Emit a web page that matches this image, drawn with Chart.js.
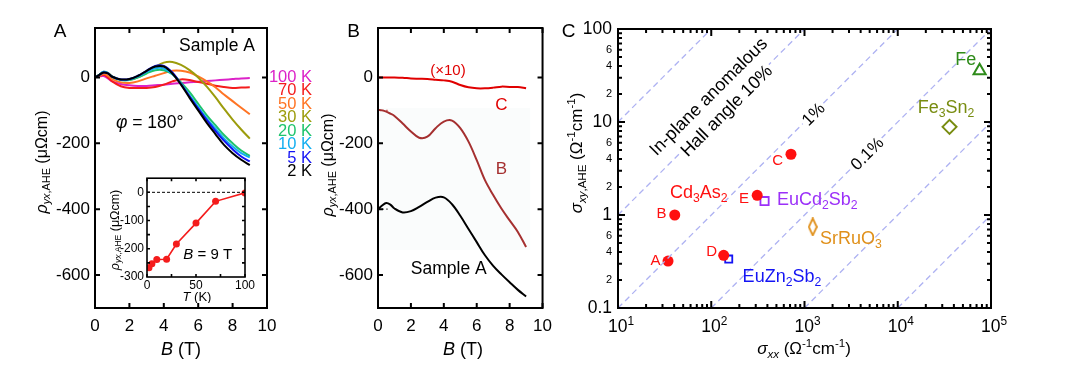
<!DOCTYPE html>
<html>
<head>
<meta charset="utf-8">
<script src="https://cdn.jsdelivr.net/npm/chart.js@4.4.1/dist/chart.umd.min.js"></script>
<style>
  body { margin: 0; background: #fff; }
  #wrap { position: relative; width: 1069px; height: 389px; overflow: hidden; }
  #wrap canvas { position: absolute; }
</style>
</head>
<body>
<div id="wrap">
  <canvas id="chartA" width="316" height="389" style="left:0px;top:0px"></canvas>
  <canvas id="chartB" width="244" height="389" style="left:316px;top:0px"></canvas>
  <canvas id="chartC" width="509" height="389" style="left:560px;top:0px"></canvas>
  <canvas id="inset" width="160" height="135" style="left:100px;top:168px"></canvas>
</div>
<script>
const FONT = '"Liberation Sans", Arial, Helvetica, sans-serif';

// ---- panel A: rho_yx,AHE vs B for several temperatures (phi = 180 deg)
const fieldA = [0, 0.25, 0.5, 0.75, 1, 1.5, 2, 2.5, 3, 3.5, 4, 4.5, 5, 5.5, 6, 6.5, 7, 7.5, 8, 8.5, 9];
const tempLabels = ['100 K', '70 K', '50 K', '30 K', '20 K', '10 K', '5 K', '2 K'];
const rho100K = [0, 3, 4, -3, -12, -20, -24, -26, -26, -24, -22, -19, -17, -15, -13, -11, -9, -7, -5, -3, -2];
const rho70K = [0, 4, 8, 0, -12, -27, -32, -32, -32, -29, -22, -12, -6, -8, -14, -19, -25, -29, -32, -31, -30];
const rho50K = [0, 5, 10, 5, -5, -15, -17, -12, -3, 5, 13, 20, 20, 15, 3, -12, -30, -52, -72, -92, -112];
const rho30K = [0, 8, 16, 14, 3, -7, -7, 0, 15, 32, 45, 47, 38, 22, 0, -28, -60, -95, -128, -158, -186];
const rho20K = [0, 8, 17, 13, 2, -8, -8, 0, 12, 22, 22, 10, -15, -45, -80, -115, -145, -175, -200, -222, -238];
const rho10K = [0, 8, 17, 13, 2, -7, -6, 3, 17, 28, 27, 10, -20, -55, -90, -125, -155, -185, -210, -230, -243];
const rho5K = [0, 7, 15, 12, 2, -6, -5, 5, 20, 35, 35, 15, -20, -58, -95, -130, -162, -192, -218, -240, -255];
const rho2K = [0, 8, 15, 12, 2, -6, -5, 5, 20, 33, 33, 12, -22, -62, -100, -138, -172, -205, -230, -250, -266];
const tempColors = ['#dc22c8', '#f41c1c', '#ff7424', '#9c9c0c', '#1ec46c', '#12aef0', '#1414f4', '#000000'];

// inset: rho_yx,AHE at B = 9 T vs T
const tempInset = [2, 5, 10, 20, 30, 50, 70, 100];
const rhoAt9T = [-267, -253, -238, -237, -183, -109, -32, -2];

// ---- panel B: samples A, B, C
const fieldB = [0, 0.25, 0.5, 0.75, 1, 1.5, 2, 2.5, 3, 3.5, 4, 4.5, 5, 5.5, 6, 6.5, 7, 7.5, 8, 8.5, 9];
const rhoC10 = [0, 0, 0, 0, 0, -1, -3, -4, -5, -7, -9, -13, -23, -30, -33, -33, -31, -28, -29, -29, -33];
const rhoB = [-98, -100, -104, -110, -117, -140, -164, -183, -180, -154, -134, -131, -154, -195, -251, -312, -357, -398, -434, -469, -515];
const rhoSampleA = [-400, -389, -381, -386, -398, -410, -406, -393, -378, -365, -364, -385, -420, -460, -500, -540, -572, -598, -622, -645, -665];
const offsetsB = [-100, -400];

// ---- panel C: sigma_xy,AHE vs sigma_xx
const cdLabels = ['A', 'B', 'C', 'D', 'E'];
const cdSxx = [34.4, 40.6, 716, 136, 311];
const cdSxy = [0.32, 1.0, 4.5, 0.369, 1.63];
const euZnSxx = [154], euZnSxy = [0.336];
const euCdSxx = [373], euCdSxy = [1.41];
const srRuSxx = [1225], srRuSxy = [0.745];
const fe3Sn2Sxx = [35900], fe3Sn2Sxy = [8.87];
const feSxx = [75500], feSxy = [35.6];
const hallAngles = [1, 0.1, 0.01, 0.001, 1e-4, 1e-5];

// ---- rich text: *italic*, _{sub}, ^{sup}
function parseRich(str) {
  const segs = [];
  let it = false, mode = '', buf = '';
  const push = () => { if (buf) segs.push({ t: buf, it: it, mode: mode }); buf = ''; };
  for (let i = 0; i < str.length; i++) {
    const c = str[i];
    if ((c === '_' || c === '^') && str[i + 1] === '{') { push(); mode = c === '_' ? 'sub' : 'sup'; i++; }
    else if (c === '}' && mode) { push(); mode = ''; }
    else if (c === '*') { push(); it = !it; }
    else buf += c;
  }
  push();
  return segs;
}

function drawRich(ctx, str, x, y, o) {
  const size = o.size || 16;
  const segs = parseRich(str);
  ctx.save();
  ctx.translate(x, y);
  if (o.rot) ctx.rotate(o.rot * Math.PI / 180);
  let w = 0;
  segs.forEach(s => {
    s.size = s.mode ? size * 0.68 : size;
    s.font = (s.it ? 'italic ' : '') + s.size + 'px ' + FONT;
    ctx.font = s.font;
    s.w = ctx.measureText(s.t).width;
    w += s.w;
  });
  let cx = o.align === 'left' ? 0 : o.align === 'right' ? -w : -w / 2;
  if (o.bg) {
    ctx.fillStyle = o.bg;
    ctx.fillRect(cx - 2, -size * 0.62, w + 4, size * 1.24);
  }
  ctx.fillStyle = o.color || '#000';
  ctx.textAlign = 'left';
  ctx.textBaseline = 'alphabetic';
  segs.forEach(s => {
    ctx.font = s.font;
    const dy = s.mode === 'sub' ? size * 0.22 : s.mode === 'sup' ? -size * 0.4 : 0;
    ctx.fillText(s.t, cx, size * 0.36 + dy);
    cx += s.w;
  });
  ctx.restore();
}

// text notes: {text, x, y} in data units or {text, px, py} in canvas pixels
function makeNotes(items) {
  return {
    id: 'notes',
    afterDraw(chart) {
      items.forEach(n => {
        let x = n.px, y = n.py;
        if (n.x !== undefined) {
          x = chart.scales.x.getPixelForValue(n.x);
          y = chart.scales.y.getPixelForValue(n.y);
        }
        drawRich(chart.ctx, n.text, x, y, n);
      });
    }
  };
}

// box round the plot with inward ticks on all four sides
function makeFrame(f) {
  return {
    id: 'frame',
    afterDatasetsDraw(chart) {
      const { ctx, chartArea: a, scales } = chart;
      ctx.save();
      ctx.strokeStyle = '#000';
      ctx.lineWidth = f.lw;
      ctx.beginPath();
      const marks = (vals, len) => {
        (vals.x || []).forEach(v => {
          const p = scales.x.getPixelForValue(v);
          ctx.moveTo(p, a.bottom); ctx.lineTo(p, a.bottom - len);
          ctx.moveTo(p, a.top); ctx.lineTo(p, a.top + len);
        });
        (vals.y || []).forEach(v => {
          const p = scales.y.getPixelForValue(v);
          ctx.moveTo(a.left, p); ctx.lineTo(a.left + len, p);
          ctx.moveTo(a.right, p); ctx.lineTo(a.right - len, p);
        });
      };
      marks(f.major, f.len);
      if (f.minor) marks(f.minor, f.minorLen);
      ctx.stroke();
      ctx.strokeRect(a.left, a.top, a.right - a.left, a.bottom - a.top);
      ctx.restore();
    }
  };
}

function lineSet(xs, ys, color, width, extra) {
  return Object.assign({
    data: xs.map((v, i) => ({ x: v, y: ys[i] })),
    borderColor: color,
    borderWidth: width,
    pointRadius: 0,
    tension: 0.35,
    fill: false
  }, extra || {});
}

function axis(type, min, max, tickVals, fit, tickOpts) {
  return {
    type: type, min: min, max: max,
    grid: { display: false, drawTicks: false },
    border: { display: false },
    afterBuildTicks: s => { s.ticks = tickVals.map(v => ({ value: v })); },
    afterFit: s => { if (fit.w !== undefined) s.width = fit.w; if (fit.h !== undefined) s.height = fit.h; },
    ticks: Object.assign({ color: '#000', autoSkip: false, maxRotation: 0, font: { family: FONT, size: 17 }, callback: v => String(v) }, tickOpts || {})
  };
}

const base = {
  responsive: false,
  animation: false,
  devicePixelRatio: 1,
  plugins: { legend: { display: false }, tooltip: { enabled: false } }
};

// ---- panel A
const rhoA = [rho2K, rho5K, rho10K, rho20K, rho30K, rho50K, rho70K, rho100K];
const colorsA = tempColors.slice().reverse();
const notesA = [
  { text: 'A', px: 60, py: 30, size: 19 },
  { text: '*ρ*_{*yx*,AHE} (μΩcm)', px: 41, py: 162, size: 16, rot: -90 },
  { text: '*B* (T)', px: 181, py: 349, size: 18 },
  { text: 'Sample A', x: 9.3, y: 99, size: 17.5, align: 'right' },
  { text: '*φ* = 180°', x: 1.22, y: -134, size: 17.5, align: 'left' }
];
tempLabels.forEach((t, i) => notesA.push({ text: t, px: 312, py: 76 + 13.5 * i, size: 16.5, align: 'right', color: tempColors[i] }));

new Chart(document.getElementById('chartA'), {
  type: 'line',
  data: { datasets: rhoA.map((r, i) => lineSet(fieldA, r, colorsA[i], 2)) },
  options: Object.assign({}, base, {
    layout: { padding: { left: 0, right: 49, top: 28, bottom: 0 } },
    scales: {
      x: axis('linear', 0, 10, [0, 2, 4, 6, 8, 10], { h: 81 }, { padding: 8 }),
      y: axis('linear', -700, 150, [-600, -400, -200, 0], { w: 95 }, { padding: 5 })
    }
  }),
  plugins: [makeFrame({ lw: 2, len: 5, major: { x: [0, 2, 4, 6, 8, 10], y: [-600, -400, -200, 0] } }), makeNotes(notesA)]
});

// ---- inset of panel A
new Chart(document.getElementById('inset'), {
  type: 'line',
  data: {
    datasets: [
      lineSet(tempInset, rhoAt9T, '#f41c1c', 1.6, { tension: 0, pointRadius: 3.5, pointBackgroundColor: '#f41c1c', pointBorderWidth: 0 }),
      lineSet([0, 100], [0, 0], '#000', 1, { tension: 0, borderDash: [3, 2] })
    ]
  },
  options: Object.assign({}, base, {
    layout: { padding: { left: 0, right: 15, top: 10, bottom: 0 } },
    scales: {
      x: axis('linear', 0, 100, [0, 50, 100], { h: 26 }, { padding: 1, font: { family: FONT, size: 12 } }),
      y: axis('linear', -300, 50, [-300, -200, -100, 0], { w: 47 }, { padding: 3, font: { family: FONT, size: 12 } })
    }
  }),
  plugins: [
    makeFrame({ lw: 1.6, len: 3, major: { x: [0, 25, 50, 75, 100], y: [-250, -200, -150, -100, -50, 0] } }),
    makeNotes([
      { text: '*ρ*_{*yx*,AHE} (μΩcm)', px: 14, py: 62, size: 12.5, rot: -90 },
      { text: '*T* (K)', px: 97, py: 128, size: 13 },
      { text: '*B* = 9 T', x: 62, y: -217, size: 15 }
    ])
  ]
});

// ---- panel B
const shadeB = {
  id: 'shade',
  beforeDatasetsDraw(chart) {
    const { ctx, scales } = chart;
    const x0 = scales.x.getPixelForValue(0), x1 = scales.x.getPixelForValue(9.25);
    const y0 = scales.y.getPixelForValue(-93), y1 = scales.y.getPixelForValue(-524);
    ctx.save();
    ctx.fillStyle = '#fafcfc';
    ctx.fillRect(x0, y0, x1 - x0, y1 - y0);
    ctx.restore();
  }
};

new Chart(document.getElementById('chartB'), {
  type: 'line',
  data: {
    datasets: [
      lineSet(fieldB, rhoSampleA, '#000', 2),
      lineSet(fieldB, rhoB, '#a53030', 2),
      lineSet(fieldB, rhoC10, '#e00000', 2),
      lineSet([0, 0.6], [offsetsB[0], offsetsB[0]], '#dd7a7a', 1.2, { tension: 0, borderDash: [2, 2] }),
      lineSet([0, 0.6], [offsetsB[1], offsetsB[1]], '#666', 1.2, { tension: 0, borderDash: [2, 2] })
    ]
  },
  options: Object.assign({}, base, {
    layout: { padding: { left: 0, right: 11, top: 28, bottom: 0 } },
    scales: {
      x: axis('linear', 0, 10, [0, 2, 4, 6, 8, 10], { h: 81 }, { padding: 8 }),
      y: axis('linear', -700, 150, [-600, -400, -200, 0], { w: 62 }, { padding: 5 })
    }
  }),
  plugins: [
    shadeB,
    makeFrame({ lw: 2, len: 5, major: { x: [0, 2, 4, 6, 8, 10], y: [-600, -400, -200, 0] } }),
    makeNotes([
      { text: 'B', px: 37.5, py: 30, size: 19 },
      { text: '*ρ*_{*yx*,AHE} (μΩcm)', px: 11, py: 165, size: 16, rot: -90 },
      { text: '*B* (T)', px: 147, py: 349, size: 18 },
      { text: '(×10)', x: 4.25, y: 23, size: 15, color: '#e00000' },
      { text: 'C', x: 7.5, y: -80, size: 17, color: '#e00000' },
      { text: 'B', x: 7.5, y: -275, size: 17, color: '#a53030' },
      { text: 'Sample A', x: 4.3, y: -577, size: 17.5 }
    ])
  ]
});

// ---- panel C
const decX = [10, 100, 1e3, 1e4, 1e5];
const decY = [0.1, 1, 10, 100];
const minorX = [], minorY = [], labelY = decY.slice();
decX.slice(0, -1).forEach(d => { for (let k = 2; k < 10; k++) minorX.push(d * k); });
decY.slice(0, -1).forEach(d => { for (let k = 2; k < 10; k++) minorY.push(d * k); [2, 4, 6].forEach(k => labelY.push(d * k)); });

const isDecade = v => Math.abs(Math.log10(v) - Math.round(Math.log10(v))) < 1e-6;
const yLabel = v => isDecade(v) ? (v < 1 ? '0.1' : String(Math.round(v))) : String(Math.round(v / Math.pow(10, Math.floor(Math.log10(v) + 1e-9))));

// diagonal lines of constant Hall angle sigma_xy / sigma_xx
const angleSets = hallAngles.map(r => {
  const x0 = Math.max(10, 0.1 / r), x1 = Math.min(1e5, 100 / r);
  return { data: [{ x: x0, y: r * x0 }, { x: x1, y: r * x1 }], showLine: true, borderColor: '#aeb2f2', borderWidth: 1.3, borderDash: [6, 4], pointRadius: 0 };
});

const narrowDiamond = document.createElement('canvas');
narrowDiamond.width = 10; narrowDiamond.height = 19;
(function () {
  const g = narrowDiamond.getContext('2d');
  g.strokeStyle = '#e0901a'; g.lineWidth = 1.8;
  g.beginPath(); g.moveTo(5, 1); g.lineTo(9, 9.5); g.lineTo(5, 18); g.lineTo(1, 9.5); g.closePath(); g.stroke();
})();

const pts = (xs, ys) => xs.map((v, i) => ({ x: v, y: ys[i] }));
const decadeLabels = {
  id: 'decadeLabels',
  afterDraw(chart) {
    const a = chart.chartArea;
    decX.forEach(v => {
      const k = Math.round(Math.log10(v));
      drawRich(chart.ctx, '10^{' + k + '}', chart.scales.x.getPixelForValue(v) + 3, a.bottom + 18, { size: 17.5 });
    });
  }
};

new Chart(document.getElementById('chartC'), {
  type: 'scatter',
  data: {
    datasets: angleSets.concat([
      { data: pts(cdSxx, cdSxy), pointStyle: 'circle', pointRadius: 5.5, backgroundColor: '#ff1010', borderWidth: 0 },
      { data: pts(euZnSxx, euZnSxy), pointStyle: 'rect', pointRadius: 5, backgroundColor: 'rgba(0,0,0,0)', borderColor: '#1414f4', borderWidth: 1.8 },
      { data: pts(euCdSxx, euCdSxy), pointStyle: 'rect', pointRadius: 5.8, backgroundColor: 'rgba(0,0,0,0)', borderColor: '#9b30f8', borderWidth: 1.8 },
      { data: pts(srRuSxx, srRuSxy), pointStyle: narrowDiamond, pointRadius: 9 },
      { data: pts(fe3Sn2Sxx, fe3Sn2Sxy), pointStyle: 'rectRot', pointRadius: 7, backgroundColor: 'rgba(0,0,0,0)', borderColor: '#788c10', borderWidth: 2 },
      { data: pts(feSxx, feSxy), pointStyle: 'triangle', pointRadius: 7, backgroundColor: 'rgba(0,0,0,0)', borderColor: '#2e8b1a', borderWidth: 2 }
    ])
  },
  options: Object.assign({}, base, {
    layout: { padding: { left: 0, right: 78, top: 29, bottom: 0 } },
    scales: {
      x: axis('logarithmic', 10, 1e5, decX, { h: 81 }, { display: false }),
      y: axis('logarithmic', 0.1, 100, labelY, { w: 58 }, {
        padding: 6,
        callback: v => yLabel(v),
        font: c => ({ family: FONT, size: c.tick && !isDecade(c.tick.value) ? 11 : 17.5 })
      })
    }
  }),
  plugins: [
    makeFrame({ lw: 2, len: 7, minorLen: 4, major: { x: decX, y: decY }, minor: { x: minorX, y: minorY } }),
    decadeLabels,
    makeNotes([
      { text: 'C', px: 8.5, py: 30, size: 19 },
      { text: '*σ*_{*xy*,AHE} (Ω^{-1}cm^{-1})', px: 16, py: 153, size: 17, rot: -90 },
      { text: '*σ*_{*xx*} (Ω^{-1}cm^{-1})', px: 244, py: 348, size: 17 },
      { text: 'In-plane anomalous', x: 91.8, y: 19.0, size: 18, rot: -45 },
      { text: 'Hall angle 10%', x: 143.6, y: 13.4, size: 18, rot: -45, bg: '#fff' },
      { text: '1%', x: 1233, y: 12.3, size: 17, rot: -45, bg: '#fff' },
      { text: '0.1%', x: 4634, y: 4.63, size: 17, rot: -45, bg: '#fff' },
      { text: cdLabels[0], x: 25.2, y: 0.334, size: 15, color: '#ff1010' },
      { text: cdLabels[1], x: 29.3, y: 1.07, size: 15, color: '#ff1010' },
      { text: cdLabels[2], x: 515, y: 3.99, size: 15, color: '#ff1010' },
      { text: cdLabels[3], x: 101, y: 0.411, size: 15, color: '#ff1010' },
      { text: cdLabels[4], x: 224, y: 1.52, size: 15, color: '#ff1010' },
      { text: 'Cd_{3}As_{2}', x: 73.6, y: 1.77, size: 18, color: '#ff1010' },
      { text: 'EuCd_{2}Sb_{2}', x: 507, y: 1.51, size: 18, align: 'left', color: '#9b30f8' },
      { text: 'EuZn_{2}Sb_{2}', x: 217, y: 0.225, size: 18, align: 'left', color: '#1414f4' },
      { text: 'SrRuO_{3}', x: 1466, y: 0.577, size: 18, align: 'left', color: '#e0901a' },
      { text: 'Fe_{3}Sn_{2}', x: 32900, y: 14.8, size: 18, color: '#788c10' },
      { text: 'Fe', x: 53600, y: 48.4, size: 18, color: '#2e8b1a' }
    ])
  ]
});
</script>
</body>
</html>
